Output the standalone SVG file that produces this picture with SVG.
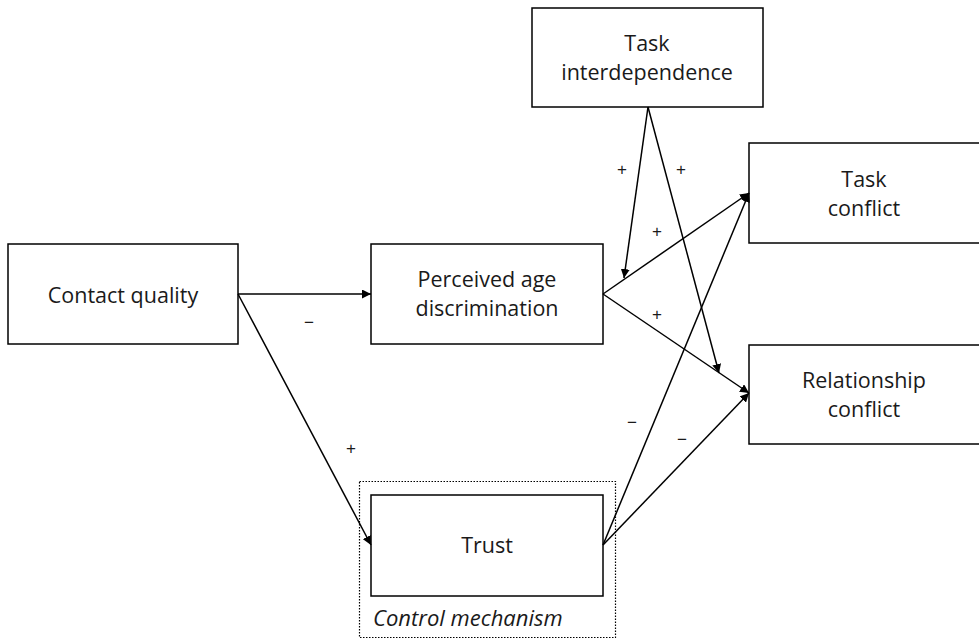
<svg xmlns="http://www.w3.org/2000/svg" width="979" height="639" viewBox="0 0 979 639">
<style>
.box{fill:#fff;stroke:#000;stroke-width:1.5}
.t{font-family:"Open Sans","Liberation Sans",sans-serif;font-size:21.5px;fill:#1a1a1a;text-anchor:middle}
.s{font-family:"Liberation Sans","Open Sans",sans-serif;font-size:17px;fill:#1a1a1a;text-anchor:middle}
.c line{stroke:#000;stroke-width:1.5;marker-end:url(#ah)}
</style>
<defs>
<marker id="ah" viewBox="0 0 10 10" refX="10" refY="5" markerWidth="9" markerHeight="9" markerUnits="userSpaceOnUse" orient="auto">
<path d="M0,0 L10,5 L0,10 z" fill="#000"/>
</marker>
</defs>
<rect width="979" height="639" fill="#fff"/>
<g id="control-mechanism">
<rect x="359.5" y="481.5" width="256" height="156" fill="none" stroke="#000" stroke-width="1.2" stroke-dasharray="1.5,1.5"/>
<text x="373" y="626" font-family="'Open Sans','Liberation Sans',sans-serif" font-size="22" font-style="italic" fill="#1a1a1a">Control mechanism</text>
</g>
<g id="contact-quality"><rect class="box" x="8" y="244" width="230" height="100"/><text class="t" x="123" y="303">Contact quality</text></g>
<g id="perceived-age"><rect class="box" x="371" y="244" width="232" height="100"/><text class="t" x="487" y="287">Perceived age</text><text class="t" x="487" y="316">discrimination</text></g>
<g id="task-interdependence"><rect class="box" x="532" y="8" width="231" height="99"/><text class="t" x="647" y="51">Task</text><text class="t" x="647" y="80">interdependence</text></g>
<g id="task-conflict"><rect class="box" x="749" y="143" width="232" height="100"/><text class="t" x="864" y="187">Task</text><text class="t" x="864" y="216">conflict</text></g>
<g id="relationship-conflict"><rect class="box" x="749" y="345" width="232" height="99"/><text class="t" x="864" y="388">Relationship</text><text class="t" x="864" y="417">conflict</text></g>
<g id="trust"><rect class="box" x="371" y="495" width="232" height="101"/><text class="t" x="487" y="553">Trust</text></g>
<g id="connectors" class="c">
<line x1="238" y1="294" x2="371" y2="294"/>
<line x1="238" y1="294" x2="371" y2="545"/>
<line x1="603" y1="294" x2="749" y2="193"/>
<line x1="603" y1="294" x2="749" y2="393"/>
<line x1="603" y1="545" x2="749" y2="193"/>
<line x1="603" y1="545" x2="749" y2="393"/>
<line x1="648" y1="107" x2="624" y2="278"/>
<line x1="648" y1="107" x2="719" y2="373"/>
</g>
<g id="labels">
<text class="s" x="622" y="175">+</text>
<text class="s" x="681" y="175">+</text>
<text class="s" x="657" y="237">+</text>
<text class="s" x="657" y="320">+</text>
<text class="s" x="309" y="328">−</text>
<text class="s" x="351" y="454">+</text>
<text class="s" x="632" y="428">−</text>
<text class="s" x="682" y="445">−</text>
</g>
</svg>
